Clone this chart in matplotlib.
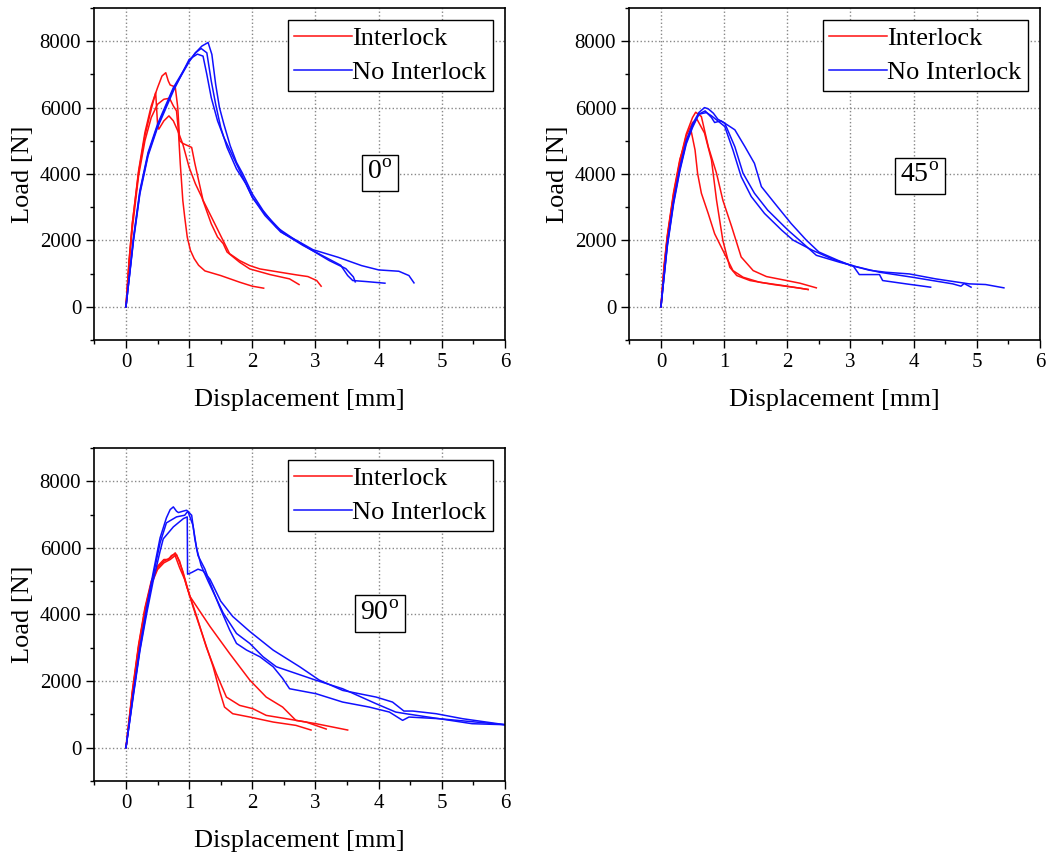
import matplotlib.pyplot as plt
from matplotlib.ticker import MultipleLocator

# === FUENTE ===
plt.rcParams['font.family'] = ['Liberation Serif', 'DejaVu Serif']
plt.rcParams['mathtext.fontset'] = 'custom'
plt.rcParams['mathtext.rm'] = 'Liberation Serif'

# === DATOS (desplazamiento [mm], carga [N]) ===
# --- 0 grados ---
int0_a_x = [0, 0.05, 0.1, 0.2, 0.3, 0.4, 0.5, 0.57, 0.63, 0.67, 0.7, 0.78, 0.82, 0.85, 0.9, 1.04, 1.09, 1.22, 1.38, 1.51, 1.64, 1.8, 1.96, 2.12, 2.44, 2.7, 2.88, 3.02, 3.09]
int0_a_y = [0, 1400, 2500, 4100, 5250, 6050, 6600, 6950, 7050, 6800, 6680, 6620, 6000, 5000, 4920, 4800, 4320, 3210, 2600, 2100, 1600, 1390, 1240, 1140, 1040, 960, 910, 790, 620]
int0_b_x = [0, 0.05, 0.1, 0.2, 0.3, 0.4, 0.5, 0.6, 0.69, 0.75, 0.8, 0.83, 0.86, 0.9, 0.93, 0.97, 1.02, 1.08, 1.15, 1.25, 1.5, 1.8, 2.0, 2.18]
int0_b_y = [0, 1300, 2350, 3950, 5000, 5700, 6100, 6250, 6280, 6050, 5900, 5300, 4300, 3200, 2700, 2100, 1700, 1450, 1250, 1080, 940, 740, 620, 560]
int0_c_x = [0, 0.05, 0.1, 0.2, 0.3, 0.4, 0.47, 0.5, 0.52, 0.6, 0.68, 0.75, 0.82, 0.9, 1.0, 1.1, 1.2, 1.35, 1.45, 1.54, 1.6, 1.8, 1.96, 2.28, 2.59, 2.74]
int0_c_y = [0, 1400, 2500, 4050, 5150, 5950, 6450, 5500, 5350, 5600, 5750, 5600, 5300, 4900, 4200, 3700, 3300, 2500, 2100, 1900, 1650, 1340, 1140, 970, 840, 670]
noint0_a_x = [0, 0.12, 0.22, 0.35, 0.5, 0.75, 1.0, 1.1, 1.2, 1.3, 1.36, 1.42, 1.48, 1.55, 1.65, 1.75, 1.85, 2.0, 2.17, 2.38, 2.69, 2.9, 3.22, 3.48, 3.6, 3.63]
noint0_a_y = [0, 2100, 3500, 4650, 5500, 6600, 7400, 7650, 7850, 7960, 7600, 6700, 6000, 5500, 4850, 4350, 4000, 3400, 2900, 2400, 2000, 1750, 1390, 1150, 900, 750]
noint0_b_x = [0, 0.12, 0.22, 0.35, 0.5, 0.75, 1.0, 1.1, 1.19, 1.28, 1.35, 1.42, 1.5, 1.6, 1.75, 1.9, 2.0, 2.2, 2.5, 2.8, 3.1, 3.4, 3.51, 3.59, 3.8, 4.1]
noint0_b_y = [0, 2050, 3450, 4600, 5450, 6550, 7380, 7650, 7780, 7650, 6800, 6100, 5400, 4800, 4150, 3700, 3300, 2800, 2200, 1850, 1550, 1250, 940, 790, 760, 710]
noint0_c_x = [0, 0.12, 0.22, 0.35, 0.5, 0.75, 1.0, 1.13, 1.22, 1.28, 1.35, 1.45, 1.55, 1.7, 1.85, 2.0, 2.2, 2.45, 2.7, 2.96, 3.36, 3.73, 4.0, 4.32, 4.48, 4.56]
noint0_c_y = [0, 2000, 3400, 4550, 5400, 6500, 7450, 7610, 7550, 7000, 6300, 5600, 5100, 4500, 3900, 3300, 2750, 2250, 2000, 1720, 1490, 1240, 1110, 1070, 940, 720]

# --- 45 grados ---
int45_a_x = [0, 0.05, 0.1, 0.2, 0.3, 0.4, 0.5, 0.55, 0.64, 0.75, 0.88, 0.98, 1.12, 1.27, 1.46, 1.67, 1.99, 2.2, 2.46]
int45_a_y = [0, 1200, 2100, 3400, 4400, 5200, 5700, 5860, 5730, 4820, 4020, 3210, 2410, 1500, 1090, 910, 790, 710, 570]
int45_b_x = [0, 0.05, 0.1, 0.2, 0.3, 0.4, 0.5, 0.57, 0.69, 0.8, 0.88, 0.98, 1.09, 1.2, 1.41, 1.78, 2.2, 2.33]
int45_b_y = [0, 1150, 2050, 3350, 4350, 5150, 5550, 5650, 5230, 4420, 3210, 2000, 1190, 940, 790, 670, 560, 520]
int45_c_x = [0, 0.05, 0.1, 0.2, 0.3, 0.4, 0.48, 0.54, 0.58, 0.64, 0.75, 0.85, 0.98, 1.14, 1.3, 1.56, 1.93, 2.2, 2.33]
int45_c_y = [0, 1250, 2150, 3450, 4450, 5050, 5280, 4720, 4020, 3420, 2800, 2200, 1700, 1090, 890, 740, 640, 560, 520]
noint45_a_x = [0, 0.1, 0.2, 0.3, 0.4, 0.5, 0.6, 0.69, 0.75, 0.83, 0.9, 1.01, 1.17, 1.33, 1.48, 1.59, 1.8, 2.06, 2.3, 2.5, 2.8, 3.0, 3.3, 3.56, 3.93, 4.35, 4.88, 5.14, 5.43]
noint45_a_y = [0, 1900, 3200, 4200, 5000, 5500, 5850, 6000, 5960, 5830, 5650, 5530, 5330, 4820, 4320, 3620, 3120, 2510, 2010, 1650, 1400, 1250, 1100, 1040, 990, 840, 690, 670, 570]
noint45_b_x = [0, 0.1, 0.2, 0.3, 0.4, 0.5, 0.6, 0.7, 0.8, 0.85, 0.95, 1.01, 1.17, 1.3, 1.48, 1.69, 2.01, 2.19, 2.46, 2.83, 3.04, 3.14, 3.46, 3.51, 3.88, 4.27]
noint45_b_y = [0, 1850, 3150, 4150, 4950, 5450, 5800, 5900, 5700, 5550, 5600, 5530, 4820, 4020, 3420, 2910, 2310, 2010, 1550, 1340, 1240, 970, 970, 790, 690, 590]
noint45_c_x = [0, 0.1, 0.2, 0.3, 0.4, 0.5, 0.6, 0.72, 0.8, 0.9, 1.01, 1.14, 1.27, 1.43, 1.64, 1.91, 2.09, 2.4, 2.7, 3.0, 3.46, 3.98, 4.62, 4.75, 4.8, 4.91]
noint45_c_y = [0, 1800, 3100, 4100, 4900, 5400, 5800, 5850, 5750, 5600, 5430, 4720, 3920, 3320, 2810, 2310, 2010, 1700, 1450, 1250, 1040, 890, 690, 620, 700, 590]

# --- 90 grados ---
int90_a_x = [0, 0.1, 0.2, 0.3, 0.4, 0.5, 0.6, 0.67, 0.72, 0.77, 0.85, 0.93, 1.06, 1.22, 1.38, 1.48, 1.56, 1.69, 1.96, 2.33, 2.69, 2.93]
int90_a_y = [0, 1700, 3100, 4200, 5000, 5450, 5650, 5650, 5770, 5810, 5400, 5050, 4240, 3340, 2430, 1720, 1220, 1020, 920, 770, 670, 530]
int90_b_x = [0, 0.1, 0.2, 0.3, 0.4, 0.5, 0.6, 0.7, 0.78, 0.85, 0.96, 1.12, 1.27, 1.43, 1.59, 1.8, 2.01, 2.22, 2.54, 2.85, 3.17]
int90_b_y = [0, 1650, 3050, 4150, 4950, 5400, 5600, 5700, 5850, 5600, 4850, 3940, 3030, 2230, 1520, 1270, 1170, 970, 870, 770, 560]
int90_c_x = [0, 0.1, 0.2, 0.3, 0.4, 0.5, 0.6, 0.7, 0.8, 0.9, 1.01, 1.33, 1.64, 1.96, 2.22, 2.48, 2.69, 3.01, 3.51]
int90_c_y = [0, 1600, 3000, 4100, 4900, 5350, 5550, 5650, 5800, 5300, 4550, 3640, 2830, 2030, 1520, 1220, 820, 720, 530]
noint90_a_x = [0, 0.12, 0.22, 0.33, 0.43, 0.54, 0.64, 0.7, 0.75, 0.8, 0.83, 0.9, 0.96, 1.04, 1.09, 1.14, 1.25, 1.33, 1.48, 1.64, 1.75, 1.91, 2.12, 2.33, 2.48, 2.59, 3.01, 3.43, 3.85, 4.17, 4.38, 4.48, 4.96, 5.48, 6.0]
noint90_a_y = [0, 1700, 3000, 4250, 5250, 6300, 6900, 7150, 7230, 7100, 7060, 7100, 7130, 6980, 6270, 5770, 5360, 4950, 4240, 3540, 3130, 2930, 2730, 2430, 2080, 1770, 1620, 1370, 1220, 1070, 820, 920, 870, 720, 690]
noint90_b_x = [0, 0.12, 0.22, 0.33, 0.43, 0.54, 0.64, 0.8, 0.93, 0.98, 1.06, 1.12, 1.19, 1.3, 1.54, 1.75, 1.96, 2.17, 2.38, 2.69, 3.0, 3.43, 3.96, 4.27, 4.43, 4.96, 6.0]
noint90_b_y = [0, 1650, 2950, 4150, 5150, 6150, 6750, 6930, 6980, 7100, 6680, 5970, 5470, 5000, 4040, 3430, 3130, 2730, 2430, 2230, 2030, 1770, 1320, 1070, 1020, 870, 690]
noint90_c_x = [0, 0.12, 0.22, 0.33, 0.43, 0.54, 0.59, 0.75, 0.91, 0.97, 0.975, 1.04, 1.14, 1.22, 1.33, 1.5, 1.69, 1.96, 2.33, 2.75, 3.06, 3.43, 3.96, 4.22, 4.4, 4.54, 4.91, 5.33, 6.0]
noint90_c_y = [0, 1600, 2900, 4050, 5000, 5900, 6270, 6630, 6880, 6930, 5210, 5260, 5360, 5310, 5060, 4400, 3940, 3490, 2930, 2430, 2030, 1720, 1520, 1370, 1100, 1100, 1020, 870, 690]

angle_labels = ['0', '45', '90']
series_labels = ['Interlock', 'No Interlock']

panels = [
    ([(int0_a_x, int0_a_y), (int0_b_x, int0_b_y), (int0_c_x, int0_c_y)],
     [(noint0_a_x, noint0_a_y), (noint0_b_x, noint0_b_y), (noint0_c_x, noint0_c_y)]),
    ([(int45_a_x, int45_a_y), (int45_b_x, int45_b_y), (int45_c_x, int45_c_y)],
     [(noint45_a_x, noint45_a_y), (noint45_b_x, noint45_b_y), (noint45_c_x, noint45_c_y)]),
    ([(int90_a_x, int90_a_y), (int90_b_x, int90_b_y), (int90_c_x, int90_c_y)],
     [(noint90_a_x, noint90_a_y), (noint90_b_x, noint90_b_y), (noint90_c_x, noint90_c_y)]),
]

# posiciones de los ejes [left, bottom, width, height] en fracción de figura
positions = [
    [0.0899, 0.6033, 0.3910, 0.3874],
    [0.5994, 0.6033, 0.3910, 0.3874],
    [0.0899, 0.0887, 0.3910, 0.3886],
]
label_pos = [(4.02, 4030), (4.1, 3940), (4.02, 4030)]

fig = plt.figure(figsize=(10.5, 8.57), dpi=100)

for i, (reds, blues) in enumerate(panels):
    ax = fig.add_axes(positions[i])

    for j, (x, y) in enumerate(reds):
        ax.plot(x, y, color='#FF1010', lw=1.1, label=series_labels[0] if j == 0 else None)
    for j, (x, y) in enumerate(blues):
        ax.plot(x, y, color='#1010FF', lw=1.1, label=series_labels[1] if j == 0 else None)

    ax.set_xlim(-0.5, 6)
    ax.set_ylim(-1000, 9000)
    ax.xaxis.set_major_locator(MultipleLocator(1))
    ax.xaxis.set_minor_locator(MultipleLocator(0.5))
    ax.yaxis.set_major_locator(MultipleLocator(2000))
    ax.yaxis.set_minor_locator(MultipleLocator(1000))
    ax.tick_params(which='both', direction='out', top=False, right=False, labelsize=15)
    ax.tick_params(which='major', length=6, width=1)
    ax.tick_params(which='minor', length=3, width=1)

    ax.grid(True, which='major', linestyle=':', color='#888888', lw=1)
    for s in ax.spines.values():
        s.set_linewidth(1.2)

    ax.set_xlabel('Displacement [mm]', fontsize=19, labelpad=12)
    ax.set_ylabel('Load [N]', fontsize=19, labelpad=4)

    leg = ax.legend(loc='upper right', fontsize=19, handlelength=2.2, handletextpad=0.0,
                    labelspacing=0.4, borderpad=0.25, borderaxespad=0.45,
                    fancybox=False, framealpha=1, edgecolor='black')
    leg.get_frame().set_linewidth(1.0)

    ax.text(label_pos[i][0], label_pos[i][1], angle_labels[i] + r'$^\mathregular{o}$',
            fontsize=20, ha='center', va='center',
            bbox=dict(boxstyle='square,pad=0.2', fc='white', ec='black', lw=1))

plt.savefig('out.png', dpi=100)
plt.close()
